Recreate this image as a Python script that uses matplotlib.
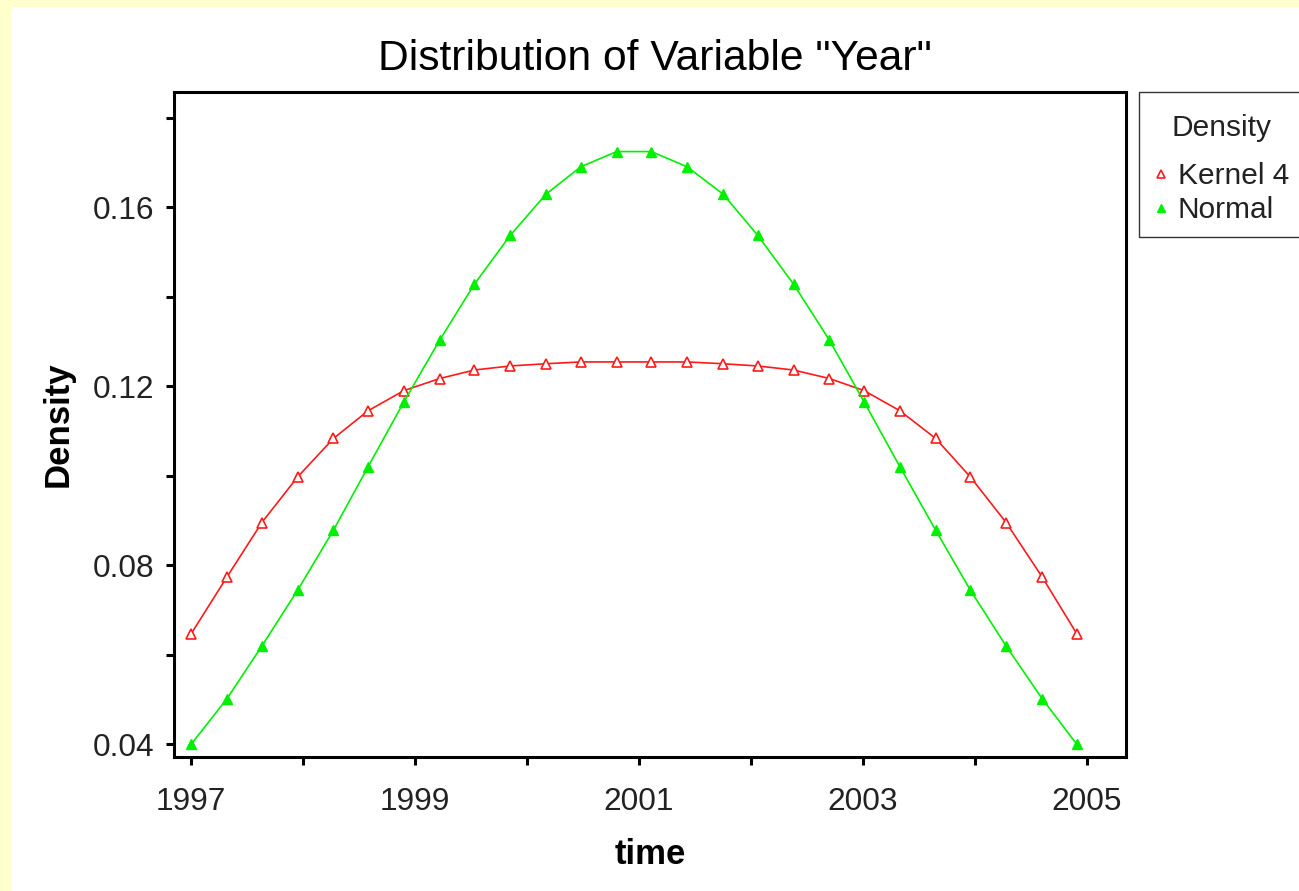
import matplotlib
matplotlib.use("Agg")
import matplotlib.pyplot as plt
from matplotlib.lines import Line2D
from matplotlib.patches import Rectangle

plt.rcParams['font.family'] = ['Liberation Sans', 'DejaVu Sans']

# evaluation points (years) and the two density curves
years = [1997.00, 1997.32, 1997.63, 1997.95, 1998.27, 1998.58, 1998.90,
         1999.22, 1999.53, 1999.85, 2000.17, 2000.48, 2000.80, 2001.11,
         2001.43, 2001.75, 2002.06, 2002.38, 2002.70, 2003.01, 2003.33,
         2003.65, 2003.96, 2004.28, 2004.60, 2004.91]
kernel4 = [0.0647, 0.0774, 0.0895, 0.0997, 0.1083, 0.1145, 0.1190,
           0.1217, 0.1236, 0.1245, 0.1250, 0.1254, 0.1254, 0.1254,
           0.1254, 0.1250, 0.1245, 0.1236, 0.1217, 0.1190, 0.1145,
           0.1083, 0.0997, 0.0895, 0.0774, 0.0647]
normal = [0.0400, 0.0502, 0.0619, 0.0744, 0.0878, 0.1020, 0.1165,
          0.1303, 0.1428, 0.1537, 0.1629, 0.1690, 0.1724, 0.1724,
          0.1690, 0.1629, 0.1537, 0.1428, 0.1303, 0.1165, 0.1020,
          0.0878, 0.0744, 0.0619, 0.0502, 0.0400]

x_ticks = [1997, 1998, 1999, 2000, 2001, 2002, 2003, 2004, 2005]
x_labels = ['1997', '', '1999', '', '2001', '', '2003', '', '2005']
y_ticks = [0.04, 0.06, 0.08, 0.10, 0.12, 0.14, 0.16, 0.18]
y_labels = ['0.04', '', '0.08', '', '0.12', '', '0.16', '']

red = '#FF1A1A'
green = '#00F000'

W, H = 1299, 891
fig = plt.figure(figsize=(W / 100, H / 100), dpi=100, facecolor='#FFFFCC')
# white panel inside the yellow page border
fig.add_artist(Rectangle((11 / W, 0), 1, 1 - 7 / H, transform=fig.transFigure,
                         facecolor='white', edgecolor='none', zorder=-5))

ax = fig.add_axes([0.1343, 0.1507, 0.7325, 0.7460])
ax.plot(years, kernel4, color=red, lw=1.2, marker='^', ms=6.8,
        mfc='white', mec=red, mew=1.2)
ax.plot(years, normal, color=green, lw=1.2, marker='^', ms=6.8,
        mfc=green, mec=green)

ax.set_xlim(1996.85, 2005.35)
ax.set_ylim(0.0372, 0.1857)
ax.set_xticks(x_ticks)
ax.set_xticklabels(x_labels)
ax.set_yticks(y_ticks)
ax.set_yticklabels(y_labels)

for s in ax.spines.values():
    s.set_linewidth(2.2)
ax.tick_params(direction='out', length=5.8, width=2.2, labelsize=22.8,
               labelcolor='#222222')
ax.tick_params(axis='y', pad=9)
ax.tick_params(axis='x', pad=16)

ax.set_title('Distribution of Variable "Year"', fontsize=30.7, pad=16, x=0.505)
ax.set_xlabel('time', fontsize=25, fontweight='bold', labelpad=15)
ax.set_ylabel('Density', fontsize=25, fontweight='bold', labelpad=13)

# legend box sits outside the axes and runs off the right edge
fig.add_artist(Rectangle((1139 / W, 1 - 237 / H), 200 / W, 145 / H,
                         transform=fig.transFigure, facecolor='white',
                         edgecolor='#333333', linewidth=1.0, zorder=1))
fig.text(1222 / W, 1 - 128 / H, 'Density', fontsize=21.5, ha='center',
         va='center', color='#222222', zorder=2)
handles = [Line2D([], [], ls='none', marker='^', ms=6, mfc='white', mec=red, mew=1.2),
           Line2D([], [], ls='none', marker='^', ms=6, mfc=green, mec=green)]
leg = fig.legend(handles, ['Kernel 4', 'Normal'],
                 loc='upper left', bbox_to_anchor=(1160 / W, 1 - 162 / H),
                 fontsize=21.5, frameon=False, handlelength=0.1,
                 handletextpad=0.5, borderpad=0, labelspacing=0.2,
                 borderaxespad=0)
leg.set_zorder(3)
for t in leg.get_texts():
    t.set_color('#222222')

fig.savefig('out.png', dpi=100, facecolor=fig.get_facecolor())
